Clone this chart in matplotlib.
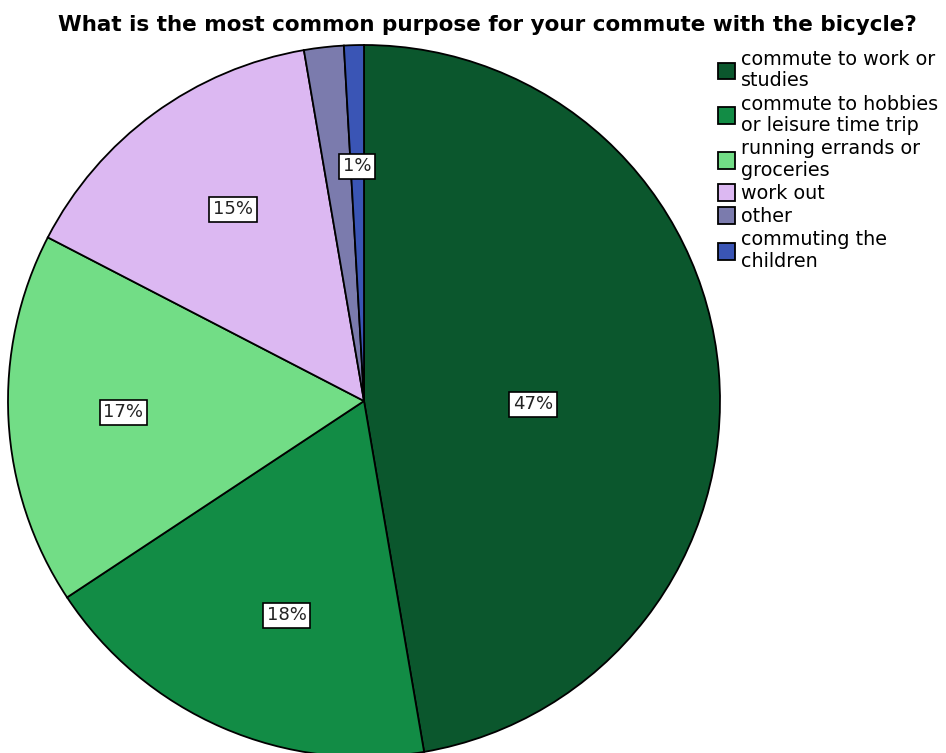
import numpy as np
import matplotlib
matplotlib.use("Agg")
import matplotlib.pyplot as plt

title = "What is the most common purpose for your commute with the bicycle?"
categories = ["commute to work or\nstudies", "commute to hobbies\nor leisure time trip",
              "running errands or\ngroceries", "work out", "other",
              "commuting the\nchildren"]
values = [47.3, 18.4, 16.9, 14.7, 1.8, 0.9]
pct_labels = ["47%", "18%", "17%", "15%", "", "1%"]
colors = ["#0b572d", "#128c45", "#72dd86", "#dcb8f2", "#7b7bad", "#3a55b5"]
# label placement style (radius fraction, angular offset in degrees)
label_radius = [0.475, 0.64, 0.677, 0.652, 0.66, 0.66]
label_shift = [6.0, -3.5, 0.4, 1.8, 0.0, 0.0]

W, H = 946, 753
fig = plt.figure(figsize=(W / 100, H / 100), dpi=100)
cx, cy, R = 364, 401, 356
ax = fig.add_axes([(cx - R) / W, (H - cy - R) / H, 2 * R / W, 2 * R / H])
wedges, _ = ax.pie(values, colors=colors, startangle=90, counterclock=False,
                   radius=1.0, wedgeprops=dict(edgecolor="black", linewidth=1.3))
for w in wedges:
    w.set_clip_on(False)
ax.set_xlim(-1, 1)
ax.set_ylim(-1, 1)
ax.set_aspect("equal")
ax.axis("off")

total = sum(values)
cum = 0
for v, lab, r, sh in zip(values, pct_labels, label_radius, label_shift):
    mid = np.deg2rad((cum + v / 2) / total * 360 + sh)
    cum += v
    if not lab:
        continue
    x = r * np.sin(mid)
    y = r * np.cos(mid)
    ax.text(x, y, lab, ha="center", va="center", fontsize=13, family="DejaVu Sans",
            color="#222222",
            bbox=dict(boxstyle="square,pad=0.2", facecolor="white", edgecolor="black", linewidth=1.2))

fig.text(487 / W, 1 - 25 / H, title, ha="center", va="center", fontsize=15.5,
         fontweight="bold", family=["DejaVu Sans"])

leg = fig.legend(wedges, categories, loc="upper left", bbox_to_anchor=(718 / W, 1 - 50 / H),
                 frameon=False, fontsize=13.8, handlelength=0.9, handleheight=0.95,
                 handletextpad=0.3, labelspacing=0.22, borderpad=0, borderaxespad=0)
for t in leg.get_texts():
    t.set_linespacing(1.16)

fig.savefig("out.png", dpi=100)
